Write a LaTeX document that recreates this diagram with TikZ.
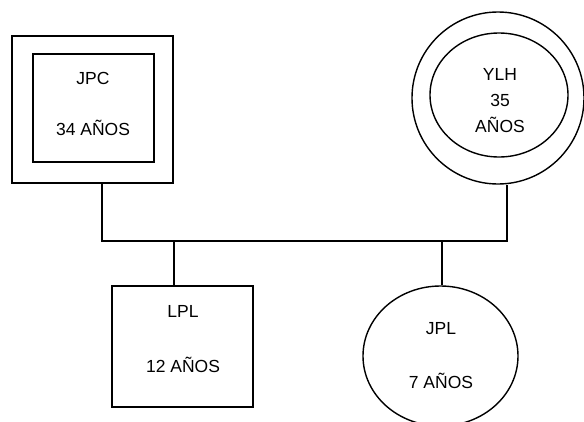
\documentclass[tikz,border=0pt]{standalone}
\usepackage{fontspec}
\setmainfont{Liberation Sans}
\usepackage{tikz}
\usetikzlibrary{calc,shapes.geometric}
\tikzset{
	male/.style={rectangle,draw,line width=1.4pt,inner sep=0pt},
	female/.style={ellipse,draw,line width=1.4pt,inner sep=0pt},
	person/.style={draw=none,align=center,inner sep=0pt,font=\fontsize{17.5}{20}\selectfont},
	tie/.style={line width=1.4pt}
	}
\begin{document}
\begin{tikzpicture}[x=1pt,y=-1pt]
      \clip (0,0) rectangle (584,421);
      % parents
      \node[male,minimum width=161,minimum height=147] (jpcout) at (92.5,109.5) {};
      \node[male,minimum width=121,minimum height=108] (jpcin) at (93.5,108) {};
      \node[person] (jpc) at (93,103.5) {JPC\\[31pt]34 AÑOS};
      \node[female,minimum width=172,minimum height=172] (ylhout) at (498,98) {};
      \node[female,minimum width=138,minimum height=124] (ylhin) at (499,95) {};
      \node[person] (ylh) at (500,101) {YLH\\[6pt]35\\[6pt]AÑOS};
      % children
      \node[male,minimum width=141,minimum height=121] (lplbox) at (182.5,346.5) {};
      \node[person] (lpl) at (183,339.5) {LPL\\[35pt]12 AÑOS};
      \node[female,minimum width=155,minimum height=140] (jplbox) at (440.5,356) {};
      \node[person] (jpl) at (441,356) {JPL\\[34pt]7 AÑOS};
      % lines
      \coordinate (barL) at (102,241);
      \coordinate (barR) at (507,241);
      \coordinate (sibL) at (174,241);
      \coordinate (sibR) at (442,241);
      \draw[tie] (jpcout.south -| barL) -- (barL) -- (barR) -- (ylhout.south -| barR);
      \draw[tie] (sibL) -- (sibL |- lplbox.north);
      \draw[tie] (sibR) -- (sibR |- jplbox.north);
    \end{tikzpicture}
\end{document}
